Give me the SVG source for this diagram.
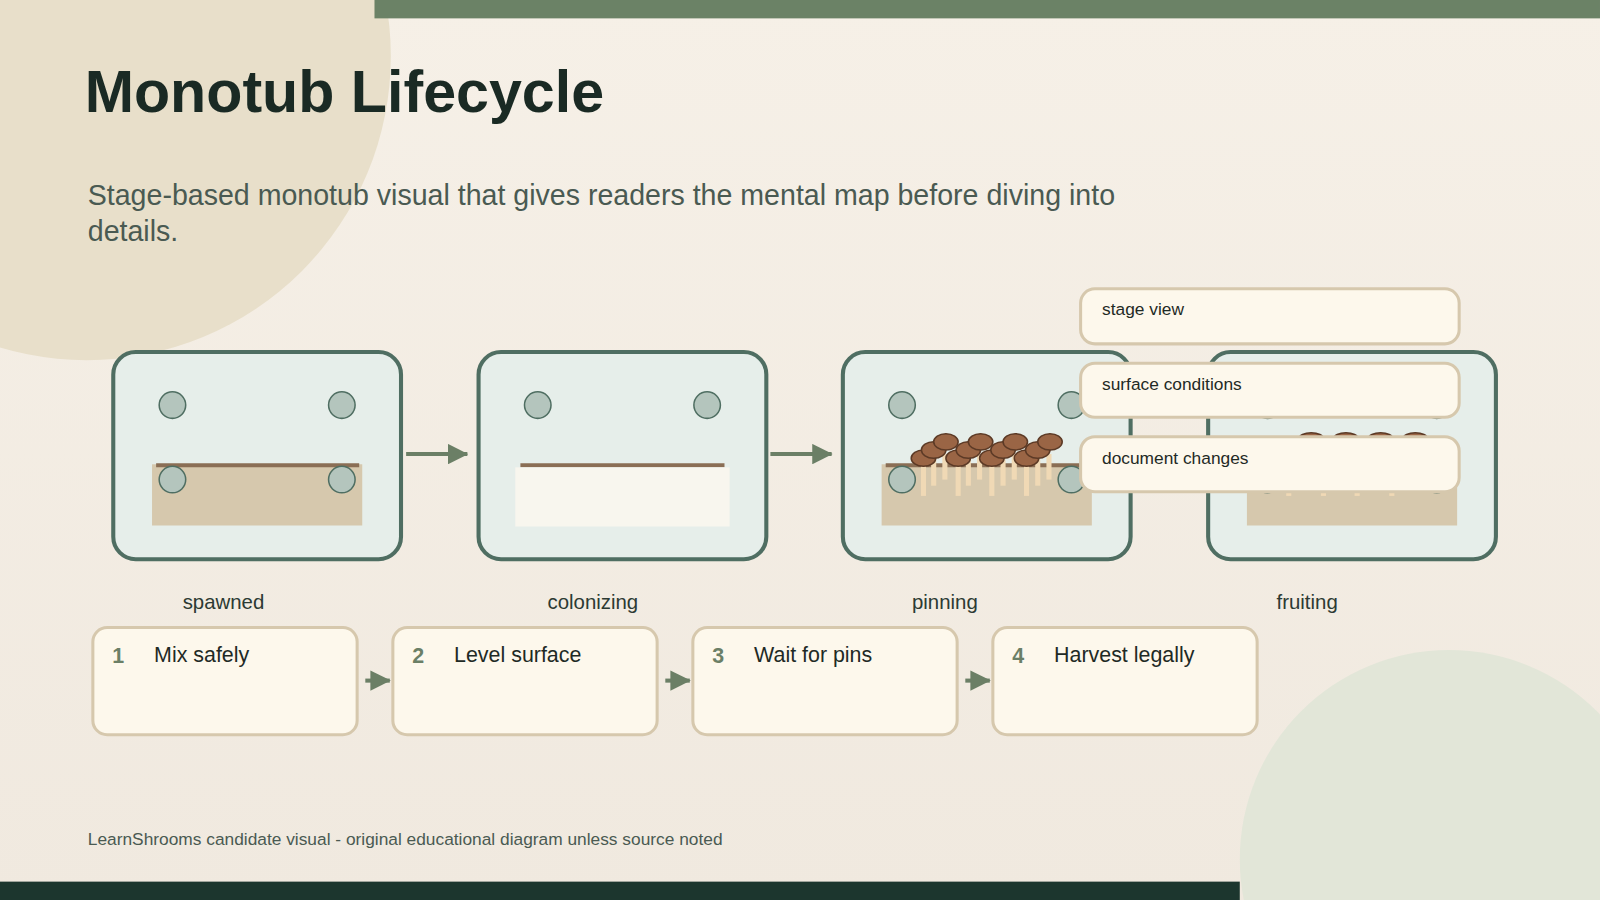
<svg xmlns="http://www.w3.org/2000/svg" width="1600" height="900" viewBox="0 0 1600 900">
<defs>
<linearGradient id="bg" x1="0" y1="0" x2="0" y2="1"><stop offset="0" stop-color="#f6f0e7"/><stop offset="1" stop-color="#f0e9df"/></linearGradient>
<marker id="ah" markerWidth="8" markerHeight="8" refX="7" refY="4" orient="auto" markerUnits="userSpaceOnUse" viewBox="0 0 8 8"><path d="M0,0 L8,4 L0,8 z" fill="#6b7f66"/></marker>
<marker id="ah2" markerWidth="20" markerHeight="20" refX="19" refY="10" orient="auto" markerUnits="userSpaceOnUse" viewBox="0 0 20 20"><path d="M0,0 L20,10 L0,20 z" fill="#6b7f66"/></marker>
<style>
.tub{fill:#e6eeea;stroke:#4f6e62;stroke-width:4}
.hole{fill:#b4c5bd;stroke:#4f6e62;stroke-width:1.5}
.sub{fill:#d6c8ad}
.rim{stroke:#8a6e55;stroke-width:4}
.cap{fill:#9a6545;stroke:#5c3a26;stroke-width:1.5}
.stem{stroke:#f0d9b5;stroke-width:5}
.lbl{font-family:"Liberation Sans",Arial,sans-serif;font-size:20px;fill:#2c3a33;text-anchor:middle}
.box{fill:#fdf8ec;stroke:#d6c8ad;stroke-width:3}
.num{font-family:"Liberation Sans",Arial,sans-serif;font-size:21px;font-weight:bold;fill:#6b7f66}
.st{font-family:"Liberation Sans",Arial,sans-serif;font-size:21px;fill:#1f2a25}
.ct{font-family:"Liberation Sans",Arial,sans-serif;font-size:17px;fill:#1f2a25}
.conn{stroke:#6b7f66;stroke-width:4;fill:none}
</style>
</defs>
<rect width="1600" height="900" fill="url(#bg)"/>
<g transform="scale(1.0204)">
<circle cx="85" cy="55" r="298" fill="#e8dfca"/>
<circle cx="1420" cy="842" r="205" fill="#e2e6d8"/>
<rect x="367" y="0" width="1201" height="18" fill="#6b8266"/>
<rect x="0" y="864" width="1215" height="18" fill="#1c362e"/>
<text x="83" y="110" font-family="Liberation Sans,Arial,sans-serif" font-size="58" font-weight="bold" fill="#1a2a24">Monotub Lifecycle</text>
<text font-family="Liberation Sans,Arial,sans-serif" font-size="28" fill="#4a5a52"><tspan x="86" y="201">Stage-based monotub visual that gives readers the mental map before diving into</tspan><tspan x="86" y="236">details.</tspan></text>

<g id="tub-spawned">
<rect class="tub" x="111" y="345" width="282" height="203" rx="22"/>
<rect class="sub" x="149" y="455" width="206" height="60"/>
<line class="rim" x1="153" y1="456" x2="352" y2="456"/>
<circle class="hole" cx="169" cy="397" r="13"/><circle class="hole" cx="335" cy="397" r="13"/>
<circle class="hole" cx="169" cy="470" r="13"/><circle class="hole" cx="335" cy="470" r="13"/>
<text class="lbl" x="219" y="597">spawned</text>
</g>
<g id="tub-colonizing">
<rect class="tub" x="469" y="345" width="282" height="203" rx="22"/>
<circle class="hole" cx="527" cy="397" r="13"/><circle class="hole" cx="693" cy="397" r="13"/>
<line class="rim" x1="510" y1="456" x2="710" y2="456"/>
<rect x="505" y="458" width="210" height="58" fill="#f8f6ee"/>
<text class="lbl" x="581" y="597">colonizing</text>
</g>
<g id="tub-pinning">
<rect class="tub" x="826" y="345" width="282" height="203" rx="22"/>
<rect class="sub" x="864" y="455" width="206" height="60"/>
<line class="rim" x1="868" y1="456" x2="1067" y2="456"/>
<circle class="hole" cx="884" cy="397" r="13"/><circle class="hole" cx="1050" cy="397" r="13"/>
<circle class="hole" cx="884" cy="470" r="13"/><circle class="hole" cx="1050" cy="470" r="13"/>
<g class="stem"><line x1="905" y1="455" x2="905" y2="486"/><line x1="915" y1="450" x2="915" y2="476"/><line x1="926" y1="445" x2="926" y2="470"/><line x1="939" y1="455" x2="939" y2="486"/><line x1="949" y1="450" x2="949" y2="476"/><line x1="960" y1="445" x2="960" y2="470"/><line x1="972" y1="455" x2="972" y2="486"/><line x1="983" y1="450" x2="983" y2="476"/><line x1="994" y1="445" x2="994" y2="470"/><line x1="1006" y1="455" x2="1006" y2="486"/><line x1="1017" y1="450" x2="1017" y2="476"/><line x1="1028" y1="445" x2="1028" y2="470"/></g>
<ellipse class="cap" cx="905" cy="449" rx="12" ry="8"/><ellipse class="cap" cx="915" cy="441" rx="12" ry="8"/><ellipse class="cap" cx="927" cy="433" rx="12" ry="8"/>
<ellipse class="cap" cx="939" cy="449" rx="12" ry="8"/><ellipse class="cap" cx="949" cy="441" rx="12" ry="8"/><ellipse class="cap" cx="961" cy="433" rx="12" ry="8"/>
<ellipse class="cap" cx="972" cy="449" rx="12" ry="8"/><ellipse class="cap" cx="983" cy="441" rx="12" ry="8"/><ellipse class="cap" cx="995" cy="433" rx="12" ry="8"/>
<ellipse class="cap" cx="1006" cy="449" rx="12" ry="8"/><ellipse class="cap" cx="1017" cy="441" rx="12" ry="8"/><ellipse class="cap" cx="1029" cy="433" rx="12" ry="8"/>
<text class="lbl" x="926" y="597">pinning</text>
</g>
<g id="tub-fruiting">
<rect class="tub" x="1184" y="345" width="282" height="203" rx="22"/>
<rect class="sub" x="1222" y="455" width="206" height="60"/>
<circle class="hole" cx="1242" cy="397" r="13"/><circle class="hole" cx="1408" cy="397" r="13"/>
<circle class="hole" cx="1242" cy="470" r="13"/><circle class="hole" cx="1408" cy="470" r="13"/>
<g class="stem"><line x1="1263" y1="430" x2="1263" y2="486"/><line x1="1297" y1="430" x2="1297" y2="486"/><line x1="1330" y1="430" x2="1330" y2="486"/><line x1="1364" y1="430" x2="1364" y2="486"/></g>
<ellipse class="cap" cx="1285" cy="430" rx="12" ry="6"/><ellipse class="cap" cx="1319" cy="430" rx="12" ry="6"/><ellipse class="cap" cx="1353" cy="430" rx="12" ry="6"/><ellipse class="cap" cx="1387" cy="430" rx="12" ry="6"/>
<text class="lbl" x="1281" y="597">fruiting</text>
</g>

<g id="connectors">
<line class="conn" x1="398" y1="445" x2="458" y2="445" marker-end="url(#ah2)"/>
<line class="conn" x1="755" y1="445" x2="815" y2="445" marker-end="url(#ah2)"/>
<line class="conn" x1="358" y1="667" x2="382" y2="667" marker-end="url(#ah2)"/>
<line class="conn" x1="652" y1="667" x2="676" y2="667" marker-end="url(#ah2)"/>
<line class="conn" x1="946" y1="667" x2="970" y2="667" marker-end="url(#ah2)"/>
</g>

<g id="step1"><rect class="box" x="91" y="615" width="259" height="105" rx="14"/><text class="num" x="110" y="650">1</text><text class="st" x="151" y="649">Mix safely</text></g>
<g id="step2"><rect class="box" x="385" y="615" width="259" height="105" rx="14"/><text class="num" x="404" y="650">2</text><text class="st" x="445" y="649">Level surface</text></g>
<g id="step3"><rect class="box" x="679" y="615" width="259" height="105" rx="14"/><text class="num" x="698" y="650">3</text><text class="st" x="739" y="649">Wait for pins</text></g>
<g id="step4"><rect class="box" x="973" y="615" width="259" height="105" rx="14"/><text class="num" x="992" y="650">4</text><text class="st" x="1033" y="649">Harvest legally</text></g>

<g id="callout1"><rect class="box" x="1059" y="283" width="371" height="54" rx="14" stroke-width="2"/><text class="ct" x="1080" y="309">stage view</text></g>
<g id="callout2"><rect class="box" x="1059" y="356" width="371" height="53" rx="14" stroke-width="2"/><text class="ct" x="1080" y="382">surface conditions</text></g>
<g id="callout3"><rect class="box" x="1059" y="428" width="371" height="54" rx="14" stroke-width="2"/><text class="ct" x="1080" y="455">document changes</text></g>

<text x="86" y="828" font-family="Liberation Sans,Arial,sans-serif" font-size="17" fill="#4a5a52">LearnShrooms candidate visual - original educational diagram unless source noted</text>
</g>
</svg>
